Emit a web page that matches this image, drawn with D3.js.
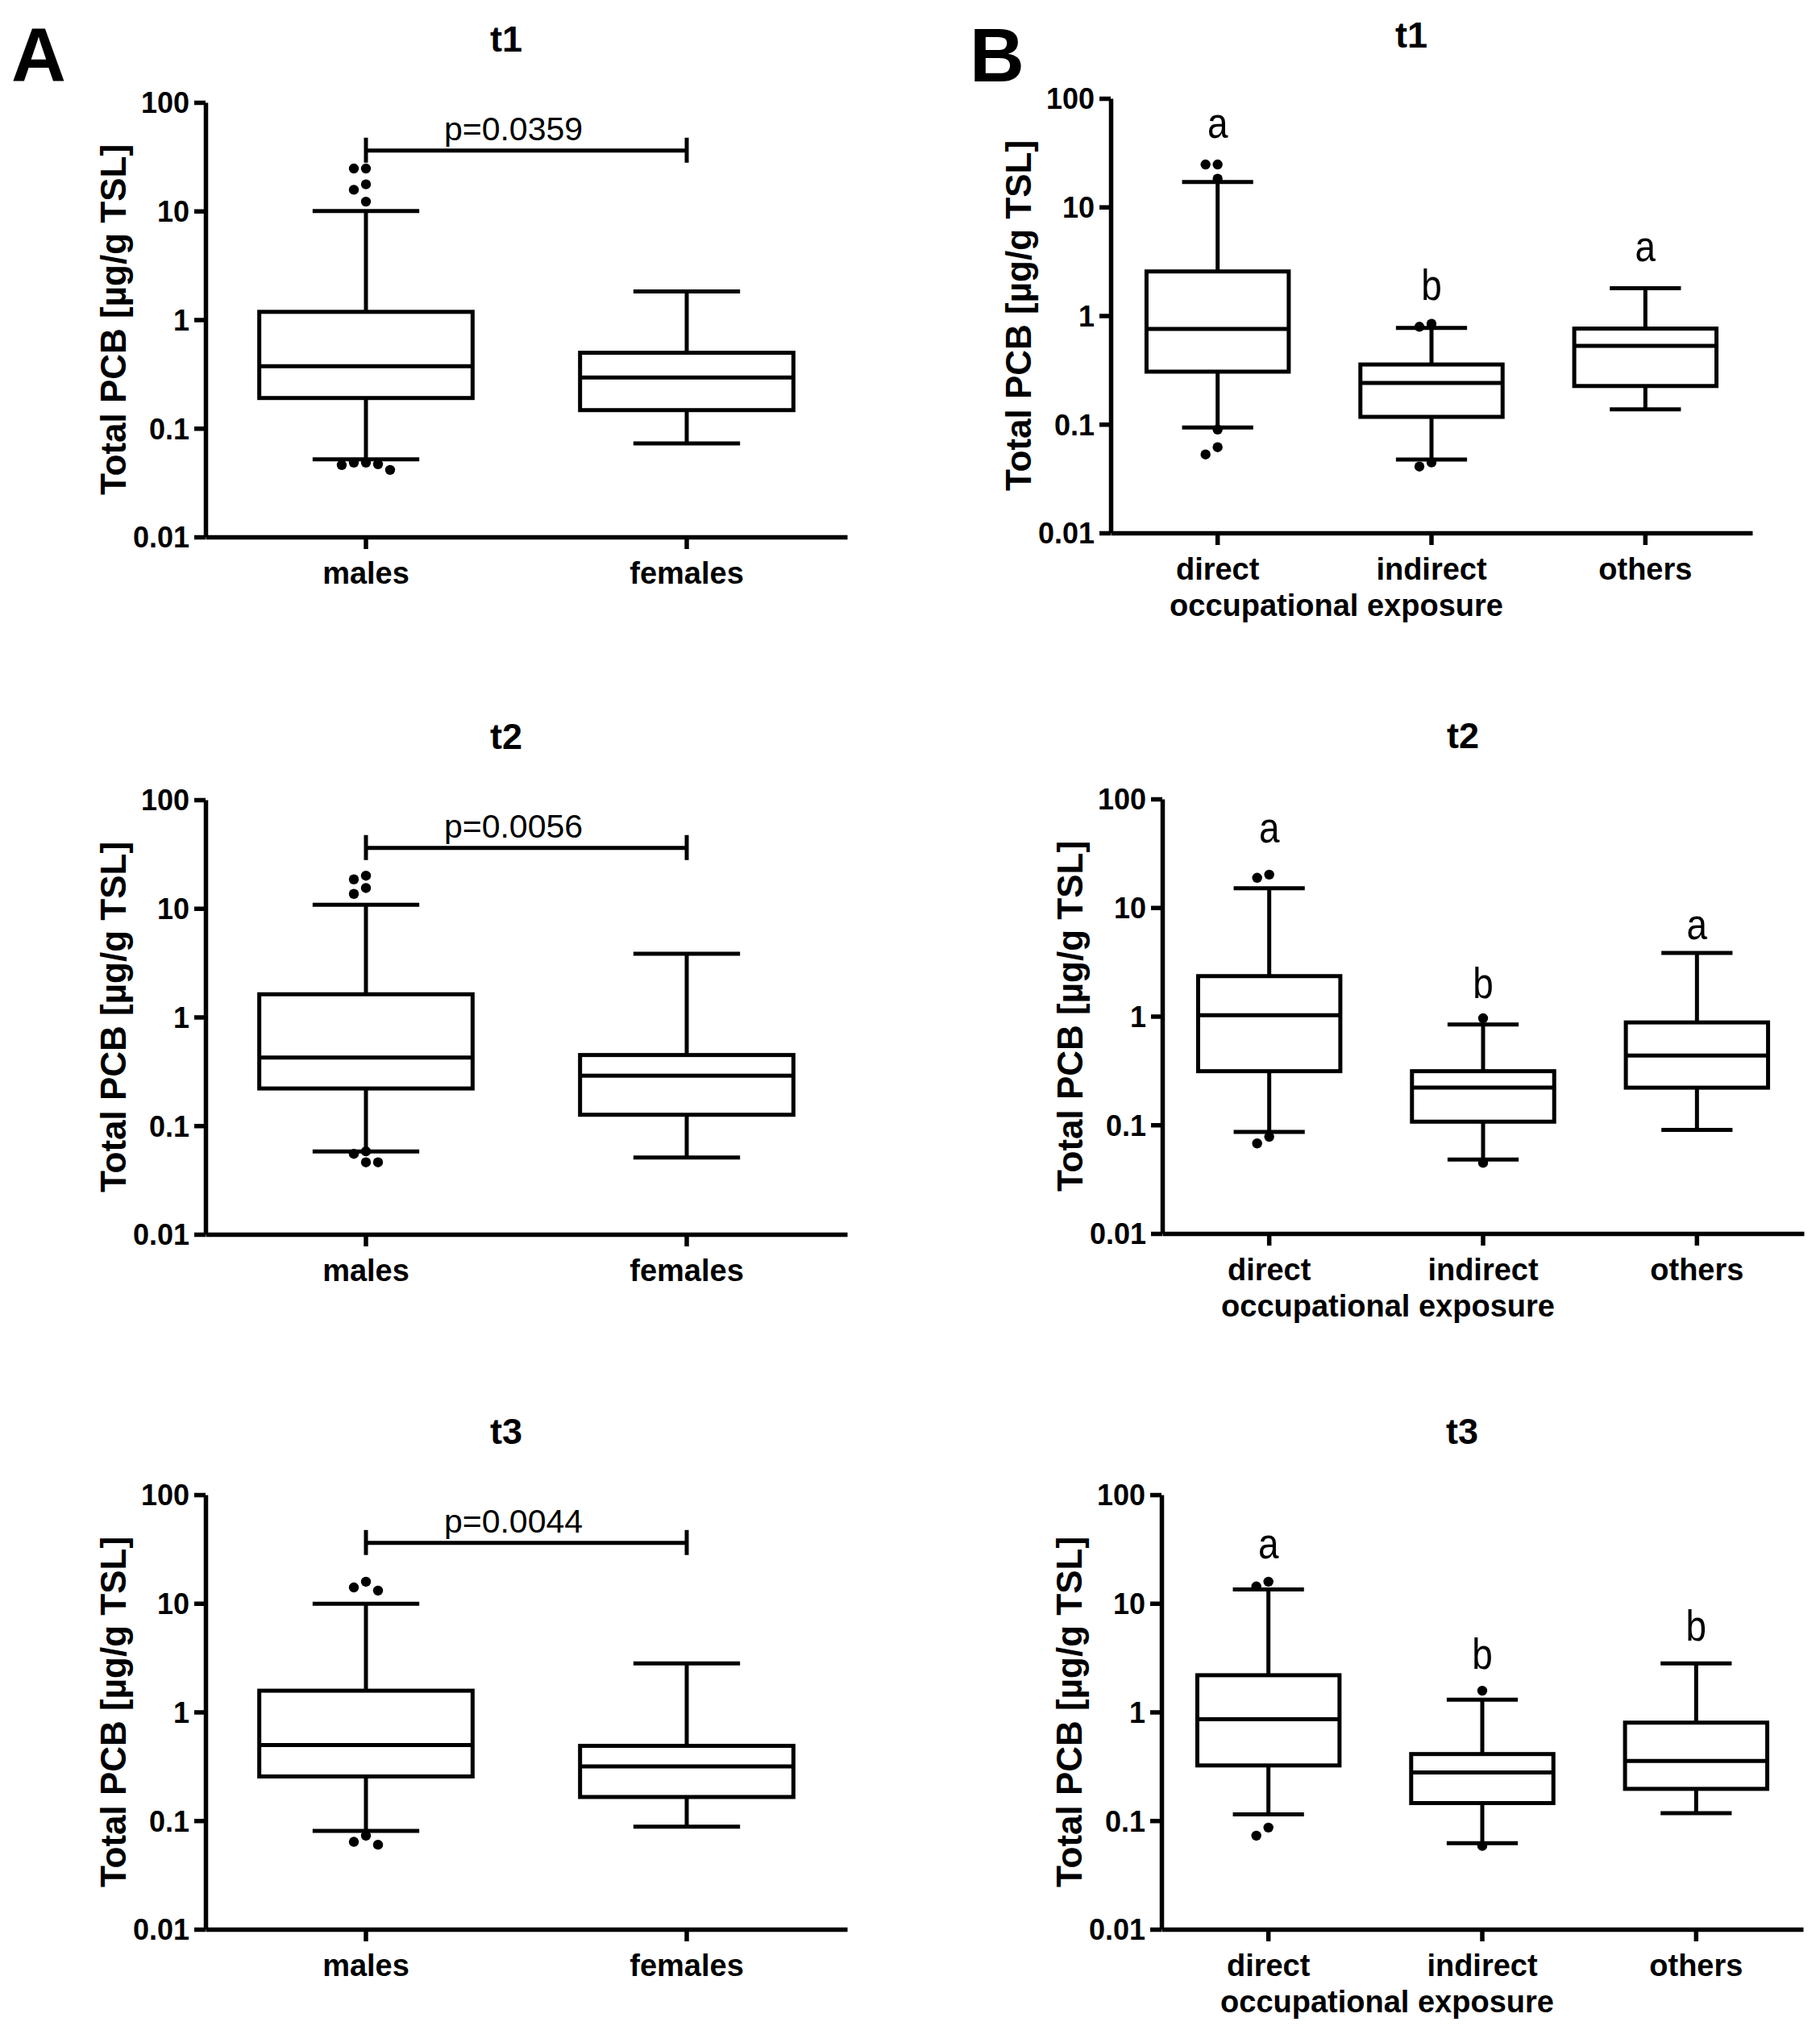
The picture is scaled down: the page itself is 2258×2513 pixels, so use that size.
<!DOCTYPE html>
<html>
<head>
<meta charset="utf-8">
<script src="https://cdn.jsdelivr.net/npm/d3@7"></script>
<style>
  html, body { margin: 0; padding: 0; background: #fff; }
  svg { display: block; }
</style>
</head>
<body>
<svg id="chart" width="2258" height="2513"></svg>
<script>
// ---------------- DATA ----------------
const timepoints = ["t1", "t2", "t3"];
const sexGroups = ["males", "females"];
const exposureGroups = ["direct", "indirect", "others"];
const yTickValues = [0.01, 0.1, 1, 10, 100];
const yTickLabels = ["0.01", "0.1", "1", "10", "100"];
const yAxisTitle = "Total PCB [µg/g TSL]";
const xAxisTitleB = "occupational exposure";

// box stats per group: [lower whisker, Q1, median, Q3, upper whisker]
const sexBoxT1 = [[0.0517, 0.190, 0.372, 1.18, 10.0], [0.0725, 0.147, 0.294, 0.496, 1.82]];
const sexBoxT2 = [[0.058, 0.220, 0.424, 1.62, 10.8], [0.051, 0.126, 0.288, 0.447, 3.82]];
const sexBoxT3 = [[0.0805, 0.255, 0.496, 1.57, 9.9], [0.0879, 0.165, 0.316, 0.488, 2.8]];

// outliers per group
const sexOutT1 = [[24.6, 24.6, 17.6, 15.7, 12.2, 0.0483, 0.0483, 0.0467, 0.0459, 0.0414], []];
const sexOutT2 = [[20.0, 18.5, 15.4, 13.6, 0.058, 0.055, 0.046, 0.046], []];
const sexOutT3 = [[15.8, 14.0, 13.1, 0.0726, 0.0638, 0.060], []];

const pValueLabels = ["p=0.0359", "p=0.0056", "p=0.0044"];
const bracketLevel = [36, 36, 36];

const expBoxT1 = [[0.0935, 0.305, 0.755, 2.55, 17.0], [0.0473, 0.117, 0.240, 0.355, 0.77], [0.137, 0.225, 0.527, 0.76, 1.79]];
const expBoxT2 = [[0.0861, 0.312, 1.02, 2.34, 15.1], [0.048, 0.107, 0.220, 0.312, 0.84], [0.090, 0.220, 0.435, 0.877, 3.82]];
const expBoxT3 = [[0.114, 0.322, 0.856, 2.18, 13.4], [0.0621, 0.145, 0.278, 0.410, 1.30], [0.117, 0.196, 0.354, 0.798, 2.8]];

const expOutT1 = [[24.6, 24.6, 18.2, 0.0895, 0.0615, 0.0527], [0.84, 0.79, 0.0445, 0.0408], []];
const expOutT2 = [[20.1, 18.8, 0.0776, 0.0675], [0.957, 0.0447], []];
const expOutT3 = [[15.8, 14.3, 0.0863, 0.0726], [1.57, 0.0585], []];

const expLettersT1 = ["a", "b", "a"];
const expLettersT2 = ["a", "b", "a"];
const expLettersT3 = ["a", "b", "b"];
// height (data units) at which each letter sits
const expLetterLevelT1 = [43, 1.40, 3.16];
const expLetterLevelT2 = [39.5, 1.48, 5.14];
const expLetterLevelT3 = [26.1, 2.48, 4.55];

// ---------------- DRAWING ----------------
const FONT = "'Liberation Sans', Arial, Helvetica, sans-serif";
const svg = d3.select("#chart");
svg.append("rect").attr("width", 2258).attr("height", 2513).attr("fill", "#fff");

const plotW = 796, plotH = 539;
const axisStroke = 5.5, boxStroke = 5, dotR = 6.2;

function layoutOutliers(vals, y, step) {
  const placed = [];
  const offsets = [0, -step, step, -2 * step, 2 * step, -3 * step, 3 * step];
  vals.forEach(v => {
    const py = y(v);
    for (const o of offsets) {
      const hit = placed.some(p => Math.hypot(p.dx - o, p.py - py) < 13.5);
      if (!hit) { placed.push({ v, dx: o, py }); break; }
    }
  });
  return placed;
}

function drawPanel(cfg) {
  const g = svg.append("g").attr("transform", `translate(${cfg.left},${cfg.top})`);
  const y = d3.scaleLog().domain([0.01, 100]).range([plotH, 0]);
  const x = d3.scaleBand().domain(cfg.cats).range([0, plotW]);
  const bw = x.bandwidth() * 0.665;
  const cx = c => x(c) + x.bandwidth() / 2;

  // y axis
  const ya = g.append("g").call(
    d3.axisLeft(y).tickValues(yTickValues).tickFormat((d, i) => yTickLabels[i])
      .tickSize(14).tickSizeOuter(0).tickPadding(6)
  );
  ya.select(".domain").attr("stroke", "#000").attr("stroke-width", axisStroke);
  ya.selectAll(".tick line").attr("stroke", "#000").attr("stroke-width", axisStroke);
  ya.selectAll(".tick text").attr("font-family", FONT).attr("font-size", 36)
    .attr("font-weight", "bold").attr("fill", "#000").attr("dy", "0.36em");

  // x axis
  const xa = g.append("g").attr("transform", `translate(0,${plotH})`).call(
    d3.axisBottom(x).tickSize(15).tickSizeOuter(0).tickPadding(16)
  );
  xa.select(".domain").attr("stroke", "#000").attr("stroke-width", axisStroke);
  xa.selectAll(".tick line").attr("stroke", "#000").attr("stroke-width", axisStroke);
  xa.selectAll(".tick text").attr("font-family", FONT).attr("font-size", 38)
    .attr("font-weight", "bold").attr("fill", "#000");

  // title
  g.append("text").attr("x", plotW / 2 - 25).attr("y", -63)
    .attr("text-anchor", "middle").attr("font-family", FONT).attr("font-size", 45)
    .attr("font-weight", "bold").text(cfg.title);

  // y title
  g.append("text").attr("transform", `translate(-115,${plotH / 2}) rotate(-90)`)
    .attr("text-anchor", "middle").attr("dominant-baseline", "central")
    .attr("font-family", FONT).attr("font-size", 44).attr("font-weight", "bold")
    .text(yAxisTitle);

  // x title
  if (cfg.xTitle) {
    g.append("text").attr("x", plotW / 2 - 118).attr("y", plotH + 103)
      .attr("text-anchor", "middle").attr("font-family", FONT).attr("font-size", 38)
      .attr("font-weight", "bold").text(cfg.xTitle);
  }

  // boxes
  cfg.cats.forEach((c, i) => {
    const [lo, q1, med, q3, hi] = cfg.boxes[i];
    const xc = cx(c);
    const bg = g.append("g").attr("stroke", "#000").attr("stroke-width", boxStroke).attr("fill", "none");
    bg.append("line").attr("x1", xc).attr("x2", xc).attr("y1", y(q3)).attr("y2", y(hi));
    bg.append("line").attr("x1", xc).attr("x2", xc).attr("y1", y(q1)).attr("y2", y(lo));
    bg.append("line").attr("x1", xc - bw / 4).attr("x2", xc + bw / 4).attr("y1", y(hi)).attr("y2", y(hi));
    bg.append("line").attr("x1", xc - bw / 4).attr("x2", xc + bw / 4).attr("y1", y(lo)).attr("y2", y(lo));
    bg.append("rect").attr("x", xc - bw / 2).attr("width", bw)
      .attr("y", y(q3)).attr("height", y(q1) - y(q3)).attr("fill", "#fff");
    bg.append("line").attr("x1", xc - bw / 2).attr("x2", xc + bw / 2).attr("y1", y(med)).attr("y2", y(med));

    const pts = layoutOutliers(cfg.outliers[i], y, 15);
    g.selectAll(null).data(pts).enter().append("circle")
      .attr("cx", d => xc + d.dx).attr("cy", d => d.py).attr("r", dotR).attr("fill", "#000");

    if (cfg.letters) {
      g.append("text")
        .attr("transform", `translate(${xc},${y(cfg.letterLevels[i])}) scale(0.85,1)`)
        .attr("text-anchor", "middle").attr("font-family", FONT).attr("font-size", 54)
        .text(cfg.letters[i]);
    }
  });

  // significance bracket
  if (cfg.pLabel) {
    const x1 = cx(cfg.cats[0]), x2 = cx(cfg.cats[1]);
    const by = y(cfg.bracket);
    const br = g.append("g").attr("stroke", "#000").attr("stroke-width", 5);
    br.append("line").attr("x1", x1).attr("x2", x2).attr("y1", by).attr("y2", by);
    br.append("line").attr("x1", x1).attr("x2", x1).attr("y1", by - 16).attr("y2", by + 15);
    br.append("line").attr("x1", x2).attr("x2", x2).attr("y1", by - 16).attr("y2", by + 15);
    g.append("text").attr("x", (x1 + x2) / 2 - 16).attr("y", by - 13)
      .attr("text-anchor", "middle").attr("font-family", FONT).attr("font-size", 41)
      .text(cfg.pLabel);
  }
}

// panel letters
svg.append("text").attr("x", 14).attr("y", 101).attr("font-family", FONT)
  .attr("font-size", 94).attr("font-weight", "bold").text("A");
svg.append("text").attr("x", 1203).attr("y", 101).attr("font-family", FONT)
  .attr("font-size", 94).attr("font-weight", "bold").text("B");

const sexBoxes = [sexBoxT1, sexBoxT2, sexBoxT3];
const sexOuts = [sexOutT1, sexOutT2, sexOutT3];
const expBoxes = [expBoxT1, expBoxT2, expBoxT3];
const expOuts = [expOutT1, expOutT2, expOutT3];
const expLetters = [expLettersT1, expLettersT2, expLettersT3];
const expLetterLevels = [expLetterLevelT1, expLetterLevelT2, expLetterLevelT3];

const aLefts = [255, 255, 255], aTops = [127, 992, 1854];
const bLefts = [1378, 1442, 1441], bTops = [122, 991, 1854];

timepoints.forEach((t, i) => {
  drawPanel({
    left: aLefts[i], top: aTops[i], cats: sexGroups, title: t,
    boxes: sexBoxes[i], outliers: sexOuts[i],
    pLabel: pValueLabels[i], bracket: bracketLevel[i]
  });
  drawPanel({
    left: bLefts[i], top: bTops[i], cats: exposureGroups, title: t,
    boxes: expBoxes[i], outliers: expOuts[i], xTitle: xAxisTitleB,
    letters: expLetters[i], letterLevels: expLetterLevels[i]
  });
});
</script>
</body>
</html>
